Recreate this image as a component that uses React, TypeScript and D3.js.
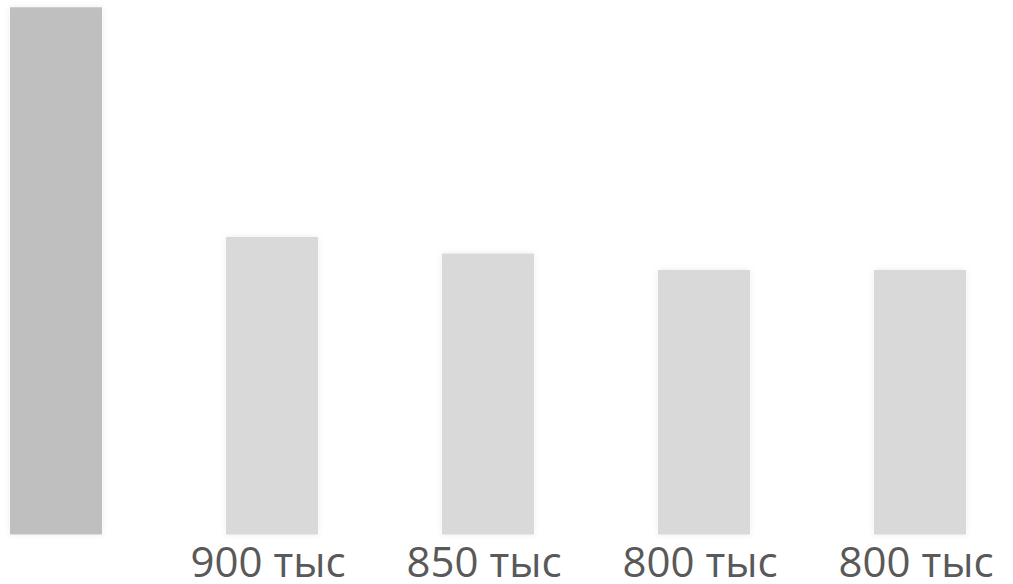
import React from "react";
import * as d3 from "d3";

const categories = ["A", "B", "C", "D", "E"];
const values = [1595, 900, 850, 800, 800];
const labels = ["", "900 тыс", "850 тыс", "800 тыс", "800 тыс"];
const colors = ["#bfbfbf", "#d9d9d9", "#d9d9d9", "#d9d9d9", "#d9d9d9"];

const W = 1013;
const H = 584;

export default function App() {
  const x = d3.scaleBand<string>().domain(categories).range([-52, 1028]).paddingInner(0.574).paddingOuter(0.287);
  const y = d3.scaleLinear().domain([0, 900]).range([534.5, 237]);
  const bw = x.bandwidth();
  return (
    <svg width={W} height={H} style={{ position: "absolute", left: 0, top: 0, display: "block" }}>
      <defs>
        <filter id="sh" x="-20%" y="-20%" width="140%" height="140%">
          <feDropShadow dx="0" dy="0" stdDeviation="3" floodColor="#000" floodOpacity="0.08" />
        </filter>
      </defs>
      <rect width={W} height={H} fill="#fff" />
      {categories.map((c, i) => (
        <rect key={c} x={x(c)} y={y(values[i])} width={bw} height={y(0) - y(values[i])} fill={colors[i]} filter="url(#sh)" />
      ))}
      {categories.map((c, i) => (
        <text key={"t" + c} x={(x(c) as number) + bw / 2 - 4} y={577} textAnchor="middle" fontFamily="'Open Sans', sans-serif" fontSize={42} fill="#595959">
          {labels[i]}
        </text>
      ))}
    </svg>
  );
}
